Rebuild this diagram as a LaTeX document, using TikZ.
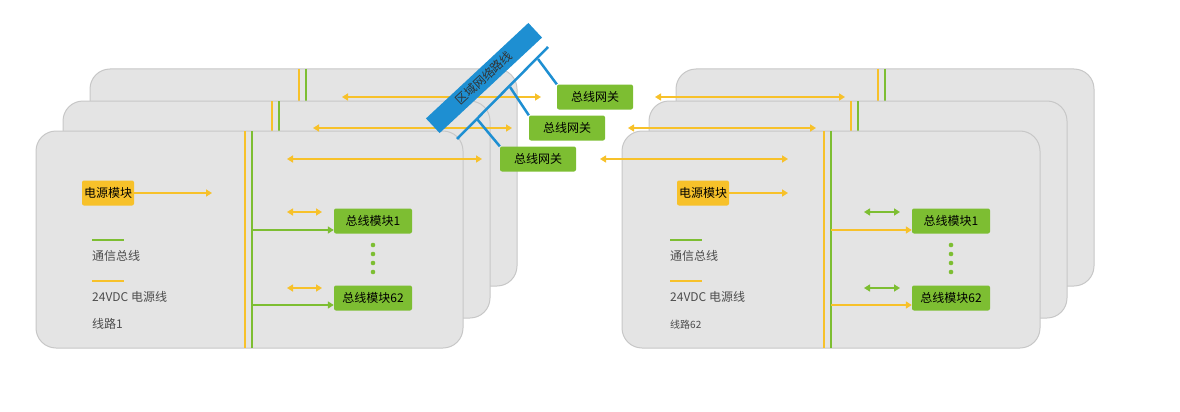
\documentclass[tikz,border=0pt]{standalone}
\usepackage{fontspec}
\setmainfont{Noto Sans CJK SC}
\usetikzlibrary{arrows.meta}
\definecolor{pyel}{HTML}{F7C12A}
\definecolor{pgrn}{HTML}{7DBE32}
\definecolor{pblu}{HTML}{1E8FD2}
\definecolor{pgry}{HTML}{E4E4E4}
\tikzset{
  panel/.style={draw=black!22,fill=pgry,rounded corners=20pt,line width=1pt},
  ybox/.style={fill=pyel,rounded corners=2pt,minimum width=52pt,minimum height=25pt,inner sep=2pt,font=\fontsize{12}{12}\selectfont},
  gbox/.style={fill=pgrn,rounded corners=2pt,minimum width=78pt,minimum height=25pt,inner sep=2pt,font=\fontsize{12}{12}\selectfont},
  lbl/.style={anchor=west,inner sep=0pt,text=black!70,font=\fontsize{12}{12}\selectfont},
  yln/.style={pyel,line width=2.5pt},
  gln/.style={pgrn,line width=2.5pt},
  bln/.style={pblu,line width=2.5pt},
  tip/.style={-{Triangle[length=6pt,width=7pt]}},
  dtip/.style={{Triangle[length=6pt,width=7pt]}-{Triangle[length=6pt,width=7pt]}},
}
\begin{document}
\begin{tikzpicture}[x=1pt,y=-1pt]
\useasboundingbox (0,0) rectangle (1180,412);
% back panels with bus lines
\foreach \dx/\dy in {54/-62,27/-30}{
  \draw [panel] (36+\dx,131+\dy) rectangle (463+\dx,348+\dy);
  \draw [yln] (245+\dx,131+\dy) -- (245+\dx,131);
  \draw [gln] (252+\dx,131+\dy) -- (252+\dx,131);
  \draw [panel] (622+\dx,131+\dy) rectangle (1040+\dx,348+\dy);
  \draw [yln] (824+\dx,131+\dy) -- (824+\dx,131);
  \draw [gln] (831+\dx,131+\dy) -- (831+\dx,131);
}
\draw [panel] (36,131) rectangle (463,348);
\draw [panel] (622,131) rectangle (1040,348);
\draw [yln] (245,131) -- (245,348);
\draw [gln] (252,131) -- (252,348);
\draw [yln] (824,131) -- (824,348);
\draw [gln] (831,131) -- (831,348);
% gateways
\node [gbox,minimum width=76pt] (gw3) at (595,97) {总线网关};
\node [gbox,minimum width=76pt] (gw2) at (567,128) {总线网关};
\node [gbox,minimum width=76pt] (gw1) at (538,159) {总线网关};
% power lines to gateways
\draw [yln,dtip] (342,97) -- (541,97);
\draw [yln,dtip] (313,128) -- (512,128);
\draw [yln,dtip] (287,159) -- (482,159);
\draw [yln,dtip] (655,97) -- (845,97);
\draw [yln,dtip] (628,128) -- (816,128);
\draw [yln,dtip] (600,159) -- (788,159);
% area network line
\node [fill=pblu,text=black!80,rotate=43,minimum width=140pt,minimum height=20pt,inner sep=0pt,font=\fontsize{12}{12}\selectfont] (net) at (484,78) {区域网络路线};
\draw [bln] (457,139) -- (548,47);
\draw [bln] (538,59) -- (gw3.north west);
\draw [bln] (510,87) -- (gw2.north west);
\draw [bln] (477,119) -- (gw1.north west);
% line 1
\node [ybox] (psL) at (108,193) {电源模块};
\coordinate (psLe) at (212,193);
\draw [yln,tip] (psL) -- (psLe);
\draw [gln] (92,240) -- (124,240);
\node [lbl] (commL) at (92,256) {通信总线};
\draw [yln] (92,281) -- (124,281);
\node [lbl] (pwrL) at (92,297) {24VDC 电源线};
\node [lbl] (lineL) at (92,324) {线路1};
\node [gbox] (m1L) at (373,221) {总线模块1};
\node [gbox] (m62L) at (373,298) {总线模块62};
\draw [yln,dtip] (287,212) -- (322,212);
\draw [yln,dtip] (287,288) -- (322,288);
\draw [gln,tip] (252,230) -- (m1L.west |- 0,230);
\draw [gln,tip] (252,305) -- (m62L.west |- 0,305);
\foreach \y in {245,254,263,272} \fill [pgrn] (373,\y) circle (2.3pt);
% line 62
\node [ybox] (psR) at (703,193) {电源模块};
\coordinate (psRe) at (788,193);
\draw [yln,tip] (psR) -- (psRe);
\draw [gln] (670,240) -- (702,240);
\node [lbl] (commR) at (670,256) {通信总线};
\draw [yln] (670,281) -- (702,281);
\node [lbl] (pwrR) at (670,297) {24VDC 电源线};
\node [lbl,font=\fontsize{10}{10}\selectfont] (lineR) at (670,325) {线路62};
\node [gbox] (m1R) at (951,221) {总线模块1};
\node [gbox] (m62R) at (951,298) {总线模块62};
\draw [gln,dtip] (864,212) -- (900,212);
\draw [gln,dtip] (864,288) -- (900,288);
\draw [yln,tip] (831,230) -- (m1R.west |- 0,230);
\draw [yln,tip] (831,305) -- (m62R.west |- 0,305);
\foreach \y in {245,254,263,272} \fill [pgrn] (951,\y) circle (2.3pt);
\end{tikzpicture}
\end{document}
